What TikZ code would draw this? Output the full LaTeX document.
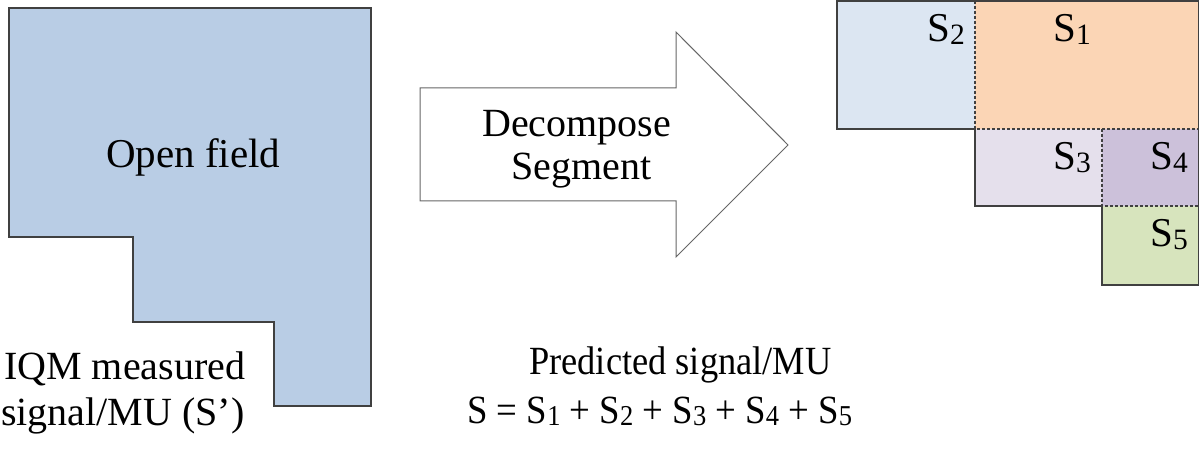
\documentclass[tikz,border=0pt]{standalone}
\usepackage{fontspec}
\usepackage{graphicx}
\setmainfont{Liberation Serif}
\newcommand\ssub[1]{\raisebox{-0.06em}{\scalebox{0.72}{#1}}}
\definecolor{fieldblue}{HTML}{B9CDE5}
\definecolor{segblue}{HTML}{DCE6F2}
\definecolor{segpeach}{HTML}{FBD5B5}
\definecolor{seglav}{HTML}{E5E0EC}
\definecolor{segpurple}{HTML}{CCC1DA}
\definecolor{seggreen}{HTML}{D7E4BD}
\definecolor{edgegray}{HTML}{404040}
\tikzset{
  txt/.style={inner sep=0pt, anchor=base west, font=\fontsize{40}{46}\selectfont},
  slabel/.style={inner sep=0pt, anchor=base west, font=\fontsize{41}{46}\selectfont},
  outline/.style={draw=edgegray, line width=1.5pt},
  inner/.style={draw=edgegray, line width=1.2pt, dash pattern=on 3pt off 2pt},
}
\begin{document}
\begin{tikzpicture}[x=1pt,y=-1pt]
\useasboundingbox (0,0) rectangle (1200,462);
% open field shape
\path[fill=fieldblue, outline] (9,8) -- (371,8) -- (371,406) -- (274,406) -- (274,322) -- (133,322) -- (133,237) -- (9,237) -- cycle;
\node[txt, font=\fontsize{41}{46}\selectfont] (open) at (106,168) {Open field};
\node[txt] (iqm1) at (4,380) {IQM measured};
\node[txt] (iqm2) at (1,425) {signal/MU (S’)};
% arrow
\path[draw=gray!80!black, fill=white, line width=1pt] (420,88) -- (676,88) -- (676,32) -- (788,145) -- (676,257) -- (676,201) -- (420,201) -- cycle;
\node[txt] (dec) at (482,137) {Decompose};
\node[txt] (seg) at (511,180) {Segment};
% segments
\fill[segblue] (837,1) rectangle (975,129);
\fill[segpeach] (975,1) rectangle (1199,129);
\fill[seglav] (975,129) rectangle (1102,206);
\fill[segpurple] (1102,129) rectangle (1199,206);
\fill[seggreen] (1102,206) rectangle (1199,285);
\draw[outline] (975,129) -- (837,129) -- (837,1) -- (1198.5,1) -- (1198.5,285) -- (1102,285) -- (1102,206) -- (975,206) -- (975,129);
\draw[inner] (975,1) -- (975,129) -- (1198.5,129);
\draw[inner] (1102,129) -- (1102,206) -- (1198.5,206);
\node[slabel] (s2) at (927,42) {S\ssub{2}};
\node[slabel] (s1) at (1053,42) {S\ssub{1}};
\node[slabel] (s3) at (1053,170) {S\ssub{3}};
\node[slabel] (s4) at (1150,170) {S\ssub{4}};
\node[slabel] (s5) at (1150,247) {S\ssub{5}};
% predicted
\node[txt] (pred) at (529,375) {\scalebox{0.91}[1]{Predicted signal/MU}};
\node[txt] (sum) at (467,423) {\scalebox{0.92}[1]{S = S\ssub{1} + S\ssub{2} + S\ssub{3} + S\ssub{4} + S\ssub{5}}};
\end{tikzpicture}
\end{document}
